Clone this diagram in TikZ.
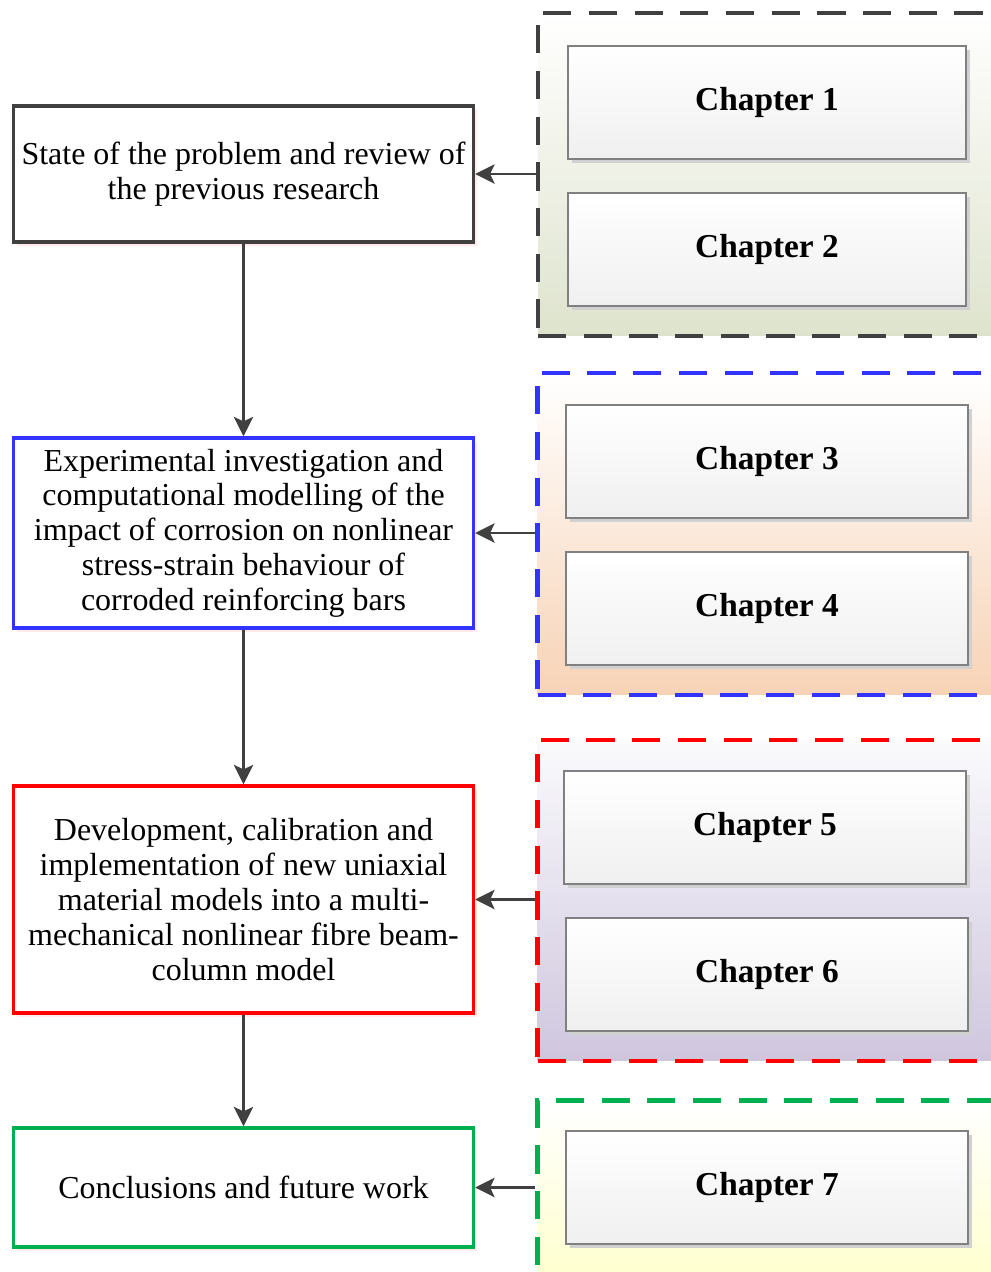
\documentclass[tikz,border=0pt]{standalone}
\usepackage{fontspec}
\setmainfont{Liberation Serif}
\usepackage{tikz}
\usetikzlibrary{positioning}
\usetikzlibrary{arrows.meta}
\usetikzlibrary{shadows}

\definecolor{darkline}{RGB}{64,64,64}
\definecolor{boxblue}{RGB}{51,51,255}
\definecolor{boxred}{RGB}{255,0,0}
\definecolor{boxgreen}{RGB}{0,176,80}
\definecolor{olivebot}{RGB}{222,227,205}
\definecolor{peachbot}{RGB}{247,211,182}
\definecolor{lilacbot}{RGB}{207,198,222}
\definecolor{lilactop}{RGB}{250,250,252}
\definecolor{yellowbot}{RGB}{255,255,200}

\tikzset{
  stagebox/.style={draw, line width=2pt, fill=white, align=center, minimum width=9.2cm,
    font=\fontsize{18.2}{19.8}\selectfont, inner sep=2pt,
    drop shadow={shadow xshift=2pt, shadow yshift=-2pt, fill=red!8, opacity=1}},
  groupbox/.style={line width=2.6pt, dash pattern=on 16pt off 10pt, minimum width=9.44cm},
  chapbox/.style={draw=gray, line width=0.8pt, top color=white, bottom color=black!6,
    minimum height=2.26cm, font=\bfseries\fontsize{19}{23}\selectfont,
    drop shadow={shadow xshift=2.5pt, shadow yshift=-2.5pt, fill=black!18, opacity=1}},
  flowarrow/.style={draw=darkline, line width=1.6pt, -{Stealth[length=11pt, width=11pt, inset=2.5pt]}}
}

\begin{document}
\begin{tikzpicture}[x=0.02cm, y=-0.02cm]
         \clip (0,0) rectangle (991,1272);
         \fill[white] (0,0) rectangle (991,1272);

         % chapter groups on the right
         \node[groupbox, draw=darkline, top color=white, bottom color=olivebot, minimum height=6.46cm] (g1) at (774,174.5) {};
         \node[groupbox, draw=boxblue, top color=white, bottom color=peachbot, minimum height=6.44cm] (g2) at (773.5,534) {};
         \node[groupbox, draw=boxred, top color=lilactop, bottom color=lilacbot, minimum height=6.42cm] (g3) at (773.5,900.5) {};
         \node[groupbox, draw=boxgreen, top color=white, bottom color=yellowbot, minimum height=3.98cm] (g4) at (773.5,1200) {};

         \node[chapbox, minimum width=7.96cm] (ch1) at (767,102.5) {Chapter 1};
         \node[chapbox, minimum width=7.96cm] (ch2) at (767,249.5) {Chapter 2};
         \node[chapbox, minimum width=8.04cm] (ch3) at (767,461.5) {Chapter 3};
         \node[chapbox, minimum width=8.04cm] (ch4) at (767,608.5) {Chapter 4};
         \node[chapbox, minimum width=8.04cm] (ch5) at (765,827.5) {Chapter 5};
         \node[chapbox, minimum width=8.04cm] (ch6) at (767,974.5) {Chapter 6};
         \node[chapbox, minimum width=8.04cm] (ch7) at (767,1187.5) {Chapter 7};

         % stages on the left
         \node[stagebox, draw=darkline, minimum height=2.72cm] (review) at (243.5,174) {State of the problem and review of\\the previous research};
         \node[stagebox, draw=boxblue, minimum height=3.8cm] (experiment) at (243.5,533) {Experimental investigation and\\computational modelling of the\\impact of corrosion on nonlinear\\stress-strain behaviour of\\corroded reinforcing bars};
         \node[stagebox, draw=boxred, minimum height=4.54cm] (model) at (243.5,899.5) {Development, calibration and\\implementation of new uniaxial\\material models into a multi-\\mechanical nonlinear fibre beam-\\column model};
         \node[stagebox, draw=boxgreen, minimum height=2.38cm] (conclusion) at (243.5,1187.5) {Conclusions and future work};

         \draw[flowarrow] (review) -- (experiment);
         \draw[flowarrow] (experiment) -- (model);
         \draw[flowarrow] (model) -- (conclusion);

         \draw[flowarrow] (g1.west |- review.east) -- (review.east);
         \draw[flowarrow] (g2.west |- experiment.east) -- (experiment.east);
         \draw[flowarrow] (g3.west |- model.east) -- (model.east);
         \draw[flowarrow] (g4.west |- conclusion.east) -- (conclusion.east);
    \end{tikzpicture}
\end{document}
